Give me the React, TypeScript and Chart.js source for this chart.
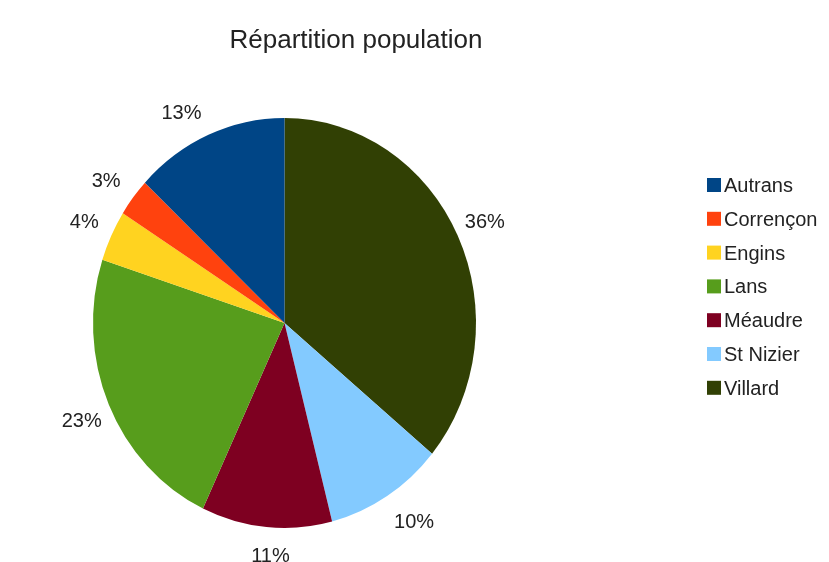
import React, { useEffect, useRef } from "react";
import { Chart, registerables } from "chart.js";

Chart.register(...registerables);

const TITLE = "Répartition population";
const categories = ["Autrans", "Corrençon", "Engins", "Lans", "Méaudre", "St Nizier", "Villard"];
const shares = [13, 3, 4, 23, 11, 10, 36];
const colors = ["#004586", "#ff420e", "#ffd320", "#579d1c", "#7e0021", "#83caff", "#314004"];

const W = 829;
const H = 562;
const CX = 284.5;
const CY = 323;
const RX = 191.5;
const RY = 205;
const HALF = 205;
const FONT = '"Liberation Sans", Arial, sans-serif';
const TEXT = "#222222";

export default function App() {
  const ref = useRef<HTMLCanvasElement>(null);

  useEffect(() => {
    const canvas = ref.current;
    if (!canvas) return;
    // The pie runs clockwise from the top: Villard first, Autrans last.
    const order = categories.map((_, i) => categories.length - 1 - i);
    const total = shares.reduce((a, b) => a + b, 0);
    const yScale = RY / RX;

    const stretch = {
      id: "stretch",
      beforeDatasetsDraw(chart: any) {
        const c = chart.ctx;
        c.save();
        c.translate(CX, CY);
        c.scale(1, yScale);
        c.translate(-CX, -CY);
      },
      afterDatasetsDraw(chart: any) {
        chart.ctx.restore();
      },
    };

    const decor = {
      id: "decor",
      afterDraw(chart: any) {
        const c = chart.ctx;
        c.save();
        c.fillStyle = TEXT;
        c.font = `26px ${FONT}`;
        c.textAlign = "center";
        c.textBaseline = "alphabetic";
        c.fillText(TITLE, 356, 48);

        const meta = chart.getDatasetMeta(0);
        c.font = `20px ${FONT}`;
        meta.data.forEach((arc: any, j: number) => {
          const p = arc.getProps(["x", "y", "startAngle", "endAngle", "outerRadius"], true);
          const a = (p.startAngle + p.endAngle) / 2;
          const ca = Math.cos(a);
          const sa = Math.sin(a);
          const ex = p.x + p.outerRadius * ca;
          const ey = p.y + p.outerRadius * yScale * sa;
          const lx = Math.abs(ca) < 0.3 ? ex + 4 : ex + 27 * Math.sign(ca);
          const ly = ey + 8 * Math.sign(sa) + (sa > 0 ? 20 : 16) * sa;
          const v = chart.data.datasets[0].data[j] as number;
          const txt = Math.round((v / total) * 100) + "%";
          c.fillStyle = TEXT;
          c.textAlign = "center";
          c.fillText(txt, lx, ly + 7);
        });

        c.textAlign = "left";
        categories.forEach((name, i) => {
          const base = 192 + i * 33.8;
          c.fillStyle = colors[i];
          c.fillRect(707, base - 14, 14, 14);
          c.fillStyle = TEXT;
          c.fillText(name, 724, base);
        });
        c.restore();
      },
    };

    const chart = new Chart(canvas, {
      type: "pie",
      data: {
        labels: order.map((i) => categories[i]),
        datasets: [
          {
            data: order.map((i) => shares[i]),
            backgroundColor: order.map((i) => colors[i]),
            borderWidth: 0,
            radius: RX,
          } as any,
        ],
      },
      options: {
        animation: false,
        responsive: false,
        devicePixelRatio: 1,
        layout: {
          padding: {
            left: CX - HALF,
            right: W - CX - HALF,
            top: CY - HALF,
            bottom: H - CY - HALF,
          },
        },
        plugins: {
          legend: { display: false },
          title: { display: false },
          tooltip: { enabled: false },
        },
      },
      plugins: [stretch, decor],
    });
    return () => chart.destroy();
  }, []);

  return (
    <div style={{ position: "fixed", left: 0, top: 0, width: W, height: H, background: "#ffffff" }}>
      <canvas ref={ref} width={W} height={H} style={{ width: W, height: H, display: "block" }} />
    </div>
  );
}
